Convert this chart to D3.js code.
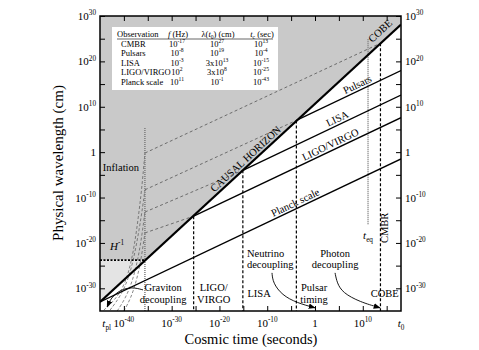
<!DOCTYPE html>
<html>
<head>
<meta charset="utf-8">
<script src="https://cdn.jsdelivr.net/npm/d3@7"></script>
<style>
  body { margin: 0; background: #fff; }
  svg text { font-family: "Liberation Serif", "DejaVu Serif", serif; fill: #000; }
</style>
</head>
<body>
<svg id="chart" width="479" height="350"></svg>
<script>
// all points are [log10 t (s), log10 lambda (cm)]
const horizon = [[-45, -33.0], [18, 28.1]];
const hubbleLevel = -23.8;
const inflationEnd = -35.6;

const modeNames = ["Planck scale", "LIGO/VIRGO", "LISA", "Pulsars"];
const modeLines = [
  [[-45, -33.0], [18, -1.5]],
  [[-25.4, -14.1], [18, 7.6]],
  [[-15.1, -4.0], [18, 12.6]],
  [[-3.9, 7.0], [18, 18.0]]
];
const modeLabelAt = [-3.6, 3.75, 5.2, 9.4];

// super-horizon stretch of the modes after inflation (dashed)
const dashedAfter = [
  [[-35.6, -0.2], [13.7, 24.0]],
  [[-35.6, -8.3], [-3.9, 7.0]],
  [[-35.6, -13.2], [-15.1, -4.0]],
  [[-35.6, -17.8], [-25.4, -14.1]]
];
// exponential stretch during inflation (dashed curves)
const inflationCurves = [
  [[-44.2, -34.8], [-41.9, -32.6], [-39.8, -29.3], [-38.3, -23.7], [-37.3, -17.1], [-36.4, -9.4], [-35.9, -3.9], [-35.6, -0.2]],
  [[-42.9, -34.8], [-40.8, -31.9], [-39.1, -28.1], [-37.9, -23.3], [-36.8, -17.1], [-36.0, -11.6], [-35.6, -8.3]],
  [[-41.4, -35.0], [-39.6, -32.1], [-38.1, -28.1], [-37.0, -23.3], [-36.2, -18.2], [-35.6, -13.2]],
  [[-40.0, -35.0], [-38.5, -32.1], [-37.3, -28.1], [-36.4, -23.7], [-35.6, -17.8]]
];

// horizon re-entry times (bold dashed verticals)
const entryPoints = [[-25.4, -14.1], [-15.1, -4.0], [-3.9, 7.0], [13.7, 24.0]];
// dotted verticals: end of inflation and t_eq
const dottedVerticals = [[-35.6, 5.3, -35], [11.1, 24.9, -16]];

const xTicks = [-40, -35, -30, -25, -20, -15, -10, -5, 0, 5, 10, 15];
const xLabels = [-40, -30, -20, -10, 0, 10];
const yTicks = [-30, -25, -20, -15, -10, -5, 0, 5, 10, 15, 20, 25, 30];
const yLabels = [-30, -20, -10, 0, 10, 20, 30];

// table
const tableNames = ["CMBR", "Pulsars", "LISA", "LIGO/VIRGO", "Planck scale"];
const tableFreqExp = [-17, -8, -3, 2, 11];
const tableLambdaPre = ["", "", "3x", "3x", ""];
const tableLambdaExp = [27, 19, 13, 8, -1];
const tableTcExp = [13, -4, -15, -25, -43];

// annotation arrows
const arrowGraviton = [[-36.0, -30.35], [-38.3, -29.7], [-40.8, -30.35], [-42.7, -32.1], [-43.5, -34.1]];
const arrowNeutrino = [[-9.0, -26.6], [-8.8, -28.8], [-6.9, -31.5], [-3.8, -33.2], [0.0, -34.3]];
const arrowPhoton = [[4.2, -26.6], [4.6, -28.8], [5.8, -31.0], [9.4, -33.0], [13.6, -34.3]];

const svg = d3.select("#chart");
const x = d3.scaleLog().domain([1e-45, 1e18]).range([100, 401]);
const y = d3.scaleLog().domain([1e-35, 1e30]).range([311, 16]);
const px = e => x(10 ** e), py = e => y(10 ** e);
const line = d3.line().x(d => px(d[0])).y(d => py(d[1]));
const smooth = d3.line().x(d => px(d[0])).y(d => py(d[1])).curve(d3.curveBasis);

//rich text: parts are [string, kind], kind mixes "sup", "sub", "i"
function rich(sel, parts, fs) {
  let cur = 0;
  parts.forEach(([s, k]) => {
    k = k || "";
    const off = k.includes("sup") ? -0.42 * fs : k.includes("sub") ? 0.28 * fs : 0;
    const ts = sel.append("tspan").attr("dy", off - cur).text(s);
    if (off !== 0) ts.attr("font-size", fs * 0.66);
    if (k.includes("i")) ts.attr("font-style", "italic");
    cur = off;
  });
  return sel;
}
const pow = e => e === 0 ? [["1", ""]] : [["10", ""], [String(e), "sup"]];

const defs = svg.append("defs");
defs.append("clipPath").attr("id", "plotclip").append("rect")
  .attr("x", 100).attr("y", 16).attr("width", 301).attr("height", 295);
defs.append("marker").attr("id", "arr").attr("viewBox", "0 0 10 10")
  .attr("refX", 9).attr("refY", 5).attr("markerWidth", 7).attr("markerHeight", 7)
  .attr("markerUnits", "userSpaceOnUse").attr("orient", "auto")
  .append("path").attr("d", "M0,1 L10,5 L0,9 z").attr("fill", "#000");

const plot = svg.append("g").attr("clip-path", "url(#plotclip)");

//regioni grigie
plot.append("path")
  .attr("d", line([[-45, 30], [18, 30], horizon[1], [inflationEnd, hubbleLevel], [-45, hubbleLevel]]) + "Z")
  .attr("fill", "#c9c9c9");
plot.append("path")
  .attr("d", line([[-45, hubbleLevel], [inflationEnd, hubbleLevel], horizon[0]]) + "Z")
  .attr("fill", "#e4e4e4");

// dashed mode histories
plot.selectAll("path.infl").data(inflationCurves).join("path").attr("class", "infl")
  .attr("d", smooth).attr("fill", "none").attr("stroke", "#555")
  .attr("stroke-width", 0.7).attr("stroke-dasharray", "3,2");
plot.selectAll("path.after").data(dashedAfter).join("path").attr("class", "after")
  .attr("d", line).attr("fill", "none").attr("stroke", "#444")
  .attr("stroke-width", 0.7).attr("stroke-dasharray", "3,2.5");

// dotted verticals
plot.selectAll("line.dotv").data(dottedVerticals).join("line").attr("class", "dotv")
  .attr("x1", d => px(d[0])).attr("x2", d => px(d[0]))
  .attr("y1", d => py(d[1])).attr("y2", d => py(d[2]))
  .attr("stroke", "#777").attr("stroke-width", 1.4).attr("stroke-dasharray", "1,1");

// H^-1 during inflation
plot.append("path").attr("d", line([[-45, hubbleLevel], [inflationEnd, hubbleLevel]]))
  .attr("stroke", "#000").attr("stroke-width", 1.8).attr("stroke-dasharray", "2,1.5");

// bold dashed verticals at horizon entry
plot.selectAll("line.entry").data(entryPoints).join("line").attr("class", "entry")
  .attr("x1", d => px(d[0])).attr("x2", d => px(d[0]))
  .attr("y1", d => py(d[1])).attr("y2", py(-35))
  .attr("stroke", "#000").attr("stroke-width", 1.2).attr("stroke-dasharray", "3,2");

// mode lines and horizon
plot.selectAll("path.mode").data(modeLines).join("path").attr("class", "mode")
  .attr("d", line).attr("fill", "none").attr("stroke", "#000").attr("stroke-width", 1.3);
plot.append("path").attr("d", line(horizon)).attr("fill", "none")
  .attr("stroke", "#000").attr("stroke-width", 2.2);

// arrows
[arrowGraviton, arrowNeutrino, arrowPhoton].forEach(a => {
  plot.append("path").attr("d", smooth(a)).attr("fill", "none").attr("stroke", "#000")
    .attr("stroke-width", 0.9).attr("marker-end", "url(#arr)");
});

// labels along lines
function alongLabel(seg, t, text, fs, off) {
  const lam = seg[0][1] + (seg[1][1] - seg[0][1]) * (t - seg[0][0]) / (seg[1][0] - seg[0][0]);
  const dx = px(seg[1][0]) - px(seg[0][0]), dy = py(seg[1][1]) - py(seg[0][1]);
  const ang = Math.atan2(dy, dx) * 180 / Math.PI;
  svg.append("text")
    .attr("transform", `translate(${px(t)},${py(lam)}) rotate(${ang}) translate(0,${-off})`)
    .attr("text-anchor", "middle").attr("font-size", fs).text(text);
}
modeNames.forEach((n, i) => alongLabel(modeLines[i], modeLabelAt[i], n, 10.5, 2.5));
alongLabel(horizon, -13.6, "CAUSAL HORIZON", 10.5, 3);
alongLabel(horizon, 15.0, "COBE", 10.5, 6);

// loose text labels
const notes = [
  ["Inflation", -44.4, -4.1, "start"],
  ["Graviton", -31.8, -30.6, "middle"],
  ["decoupling", -31.8, -33.2, "middle"],
  ["LIGO/", -21.2, -30.6, "middle"],
  ["VIRGO", -21.2, -33.2, "middle"],
  ["LISA", -11.7, -31.9, "middle"],
  ["Neutrino", -14.25, -23.0, "start"],
  ["decoupling", -14.25, -25.5, "start"],
  ["Photon", 4.2, -23.1, "middle"],
  ["decoupling", 4.2, -25.6, "middle"],
  ["Pulsar", -0.2, -30.6, "middle"],
  ["timing", -0.2, -33.2, "middle"],
  ["COBE", 14.6, -32.0, "middle"]
];
svg.selectAll("text.note").data(notes).join("text").attr("class", "note")
  .attr("x", d => px(d[1])).attr("y", d => py(d[2]))
  .attr("text-anchor", d => d[3]).attr("font-size", 10.5).text(d => d[0]);

rich(svg.append("text").attr("x", px(-42.9)).attr("y", py(-21.5)).attr("font-size", 11),
  [["H", "i"], ["-1", "sup"]], 11);
rich(svg.append("text").attr("x", px(11.1)).attr("y", py(-19.2)).attr("text-anchor", "middle")
  .attr("font-size", 11), [["t", "i"], ["eq", "sub"]], 11);
svg.append("text").attr("transform", `translate(${px(15.3)},${py(-16.7)}) rotate(-90)`)
  .attr("text-anchor", "middle").attr("font-size", 10.5).text("CMBR");

// frame and ticks
const axes = svg.append("g");
const noDomain = g => g.select(".domain").remove();
axes.append("g").attr("transform", "translate(0,311)")
  .call(d3.axisBottom(x).tickValues(xTicks.map(e => 10 ** e)).tickSize(-5).tickFormat("")).call(noDomain);
axes.append("g").attr("transform", "translate(0,16)")
  .call(d3.axisTop(x).tickValues(xTicks.map(e => 10 ** e)).tickSize(-5).tickFormat("")).call(noDomain);
axes.append("g").attr("transform", "translate(100,0)")
  .call(d3.axisLeft(y).tickValues(yTicks.map(e => 10 ** e)).tickSize(-5).tickFormat("")).call(noDomain);
axes.append("g").attr("transform", "translate(401,0)")
  .call(d3.axisRight(y).tickValues(yTicks.map(e => 10 ** e)).tickSize(-5).tickFormat("")).call(noDomain);
axes.selectAll(".tick line").attr("stroke", "#000");
axes.append("rect").attr("x", 100).attr("y", 16).attr("width", 301).attr("height", 295)
  .attr("fill", "none").attr("stroke", "#000").attr("stroke-width", 1.5);

// tick labels
xLabels.forEach(e => rich(svg.append("text").attr("x", px(e)).attr("y", 327)
  .attr("text-anchor", "middle").attr("font-size", 11), pow(e), 11));
rich(svg.append("text").attr("x", px(-43.6)).attr("y", 327).attr("text-anchor", "middle")
  .attr("font-size", 11), [["t", "i"], ["pl", "sub"]], 11);
rich(svg.append("text").attr("x", px(18)).attr("y", 327).attr("text-anchor", "middle")
  .attr("font-size", 11), [["t", "i"], ["0", "sub"]], 11);
yLabels.forEach(e => {
  rich(svg.append("text").attr("x", 96).attr("y", py(e) + 4).attr("text-anchor", "end")
    .attr("font-size", 11), pow(e), 11);
  rich(svg.append("text").attr("x", 405).attr("y", py(e) + 4).attr("font-size", 11), pow(e), 11);
});

svg.append("text").attr("x", 251).attr("y", 344).attr("text-anchor", "middle")
  .attr("font-size", 14.5).text("Cosmic time (seconds)");
svg.append("text").attr("transform", "translate(63,163) rotate(-90)")
  .attr("text-anchor", "middle").attr("font-size", 15).text("Physical wavelength (cm)");

// table
const tb = svg.append("g");
tb.append("rect").attr("x", 112).attr("y", 27).attr("width", 166).attr("height", 63).attr("fill", "#fff");
const tfs = 8.5, rowY = i => 46.5 + i * 9.5;
tb.append("text").attr("x", 117).attr("y", 36.5).attr("font-size", tfs).text("Observation");
rich(tb.append("text").attr("x", 178).attr("y", 36.5).attr("text-anchor", "middle").attr("font-size", tfs),
  [["f", "i"], [" (Hz)", ""]], tfs);
rich(tb.append("text").attr("x", 218).attr("y", 36.5).attr("text-anchor", "middle").attr("font-size", tfs),
  [["λ(", ""], ["t", "i"], ["0", "sub"], [") (cm)", ""]], tfs);
rich(tb.append("text").attr("x", 262).attr("y", 36.5).attr("text-anchor", "middle").attr("font-size", tfs),
  [["t", "i"], ["c", "sub"], [" (sec)", ""]], tfs);
tb.append("line").attr("x1", 117).attr("x2", 273).attr("y1", 39).attr("y2", 39)
  .attr("stroke", "#000").attr("stroke-width", 0.6);
tableNames.forEach((n, i) => {
  tb.append("text").attr("x", 121).attr("y", rowY(i)).attr("font-size", tfs).text(n);
  rich(tb.append("text").attr("x", 177).attr("y", rowY(i)).attr("text-anchor", "middle")
    .attr("font-size", tfs), pow(tableFreqExp[i]), tfs);
  rich(tb.append("text").attr("x", 217).attr("y", rowY(i)).attr("text-anchor", "middle")
    .attr("font-size", tfs), [[tableLambdaPre[i] + "10", ""], [String(tableLambdaExp[i]), "sup"]], tfs);
  rich(tb.append("text").attr("x", 261).attr("y", rowY(i)).attr("text-anchor", "middle")
    .attr("font-size", tfs), pow(tableTcExp[i]), tfs);
});
</script>
</body>
</html>
